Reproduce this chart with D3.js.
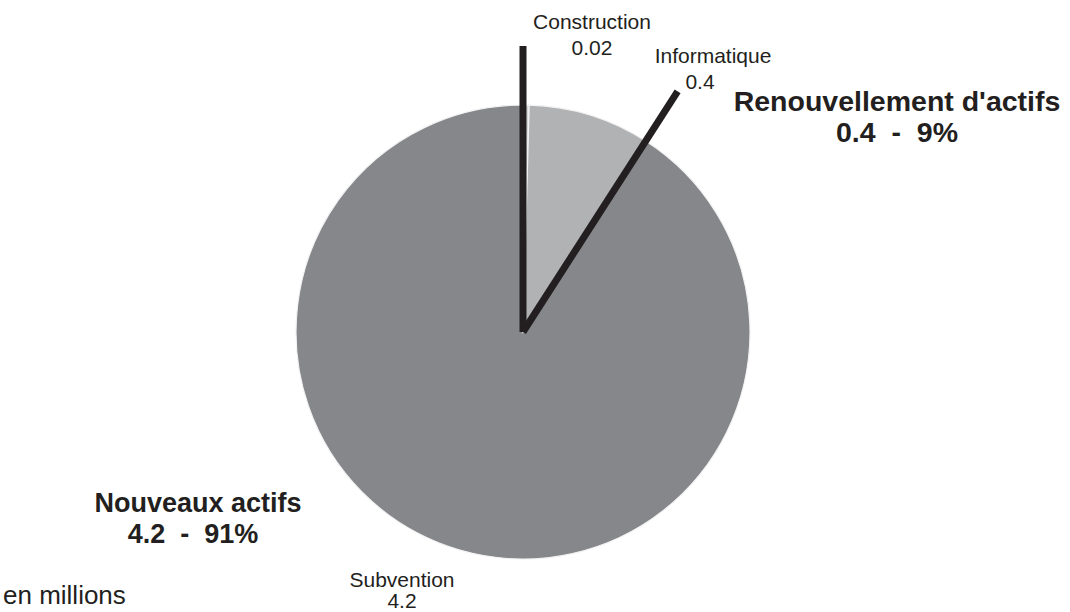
<!DOCTYPE html>
<html>
<head>
<meta charset="utf-8">
<script src="https://cdn.jsdelivr.net/npm/d3@7.9.0/dist/d3.min.js"></script>
<style>
  body { margin: 0; background: #fff; }
  svg { display: block; font-family: "Liberation Sans", Arial, sans-serif; }
  text { white-space: pre; fill: #231f20; }
</style>
</head>
<body>
<div id="chart"></div>
<script>
// slices, clockwise from 12 o'clock
const categories = ['Construction', 'Informatique', 'Subvention'];
const values = [0.02, 0.4, 4.2];
const groups = ['Renouvellement', 'Renouvellement', 'Nouveaux'];
const sliceColors = ['#d4d5d6', '#b1b2b4', '#86878a'];

// group labels
const groupTitles = ["Renouvellement d'actifs", 'Nouveaux actifs'];
const groupValues = ['0.4  -  9%', '4.2  -  91%'];

const width = 1070;
const height = 612;
const cx = 523, cy = 332;
const radius = 227;

const svg = d3.select('#chart')
  .append('svg')
  .attr('width', width)
  .attr('height', height);

const pie = d3.pie().sort(null).value(d => d.value);
const arcs = pie(categories.map((c, i) => ({ name: c, value: values[i], group: groups[i] })));

const arc = d3.arc().innerRadius(0).outerRadius(radius);

const g = svg.append('g').attr('transform', `translate(${cx},${cy})`);

g.selectAll('path')
  .data(arcs)
  .join('path')
  .attr('d', arc)
  .attr('fill', (d, i) => sliceColors[i])
  .attr('stroke', '#f2f2f2')
  .attr('stroke-width', 1.2);

// separator lines at group boundaries
const boundaries = [0];
arcs.forEach((a, i) => {
  if (i < arcs.length - 1 && a.data.group !== arcs[i + 1].data.group) boundaries.push(a.endAngle);
});
const lineLen = 286;
g.selectAll('line.sep')
  .data(boundaries)
  .join('line')
  .attr('class', 'sep')
  .attr('x1', 0).attr('y1', 0)
  .attr('x2', a => Math.sin(a) * lineLen)
  .attr('y2', a => -Math.cos(a) * lineLen)
  .attr('stroke', '#231f20')
  .attr('stroke-width', 7)
  .attr('stroke-linecap', 'butt');

// slice labels (name + value)
const sliceLabelPos = [[592, 29, 55], [713, 63, 89], [402, 587, 608]];
const valueOffset = [0, -13, 0];
arcs.forEach((a, i) => {
  const [x, y1, y2] = sliceLabelPos[i];
  svg.append('text')
    .attr('x', x).attr('y', y1)
    .attr('text-anchor', 'middle')
    .attr('font-size', 21)
    .text(a.data.name);
  svg.append('text')
    .attr('x', x + valueOffset[i]).attr('y', y2)
    .attr('text-anchor', 'middle')
    .attr('font-size', 21)
    .text(a.data.value);
});

// group labels
const groupPos = [[897, 111, 897, 142], [198, 512, 193, 543]];
const groupSize = [28.5, 27];
groupTitles.forEach((t, i) => {
  const [x1, y1, x2, y2] = groupPos[i];
  svg.append('text')
    .attr('x', x1).attr('y', y1)
    .attr('text-anchor', 'middle')
    .attr('font-size', groupSize[i])
    .attr('font-weight', 'bold')
    .text(t);
  svg.append('text')
    .attr('x', x2).attr('y', y2)
    .attr('text-anchor', 'middle')
    .attr('font-size', groupSize[i])
    .attr('font-weight', 'bold')
    .text(groupValues[i]);
});

svg.append('text')
  .attr('x', 3).attr('y', 604)
  .attr('font-size', 26)
  .text('en millions');
</script>
</body>
</html>
